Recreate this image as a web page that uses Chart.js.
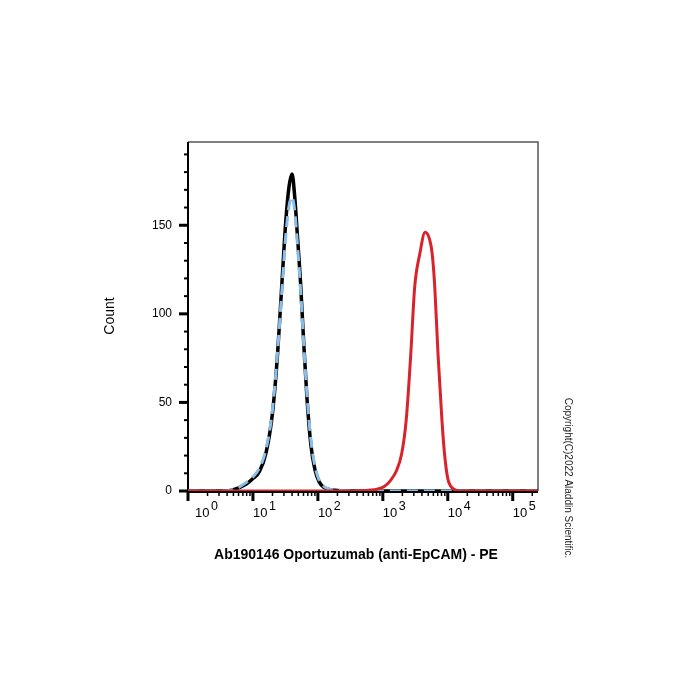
<!DOCTYPE html>
<html>
<head>
<meta charset="utf-8">
<script src="https://cdn.jsdelivr.net/npm/chart.js"></script>
<style>
  body { margin: 0; background: #fff; }
  canvas { display: block; }
</style>
</head>
<body>
<canvas id="histo" width="700" height="700"></canvas>
<script>
// fluorescence intensity (PE) and event counts
const isoX = [1, 3, 4, 5, 6.3, 8, 10, 12.6, 16, 20, 24, 28, 32, 36, 40, 44, 48, 54, 60, 68, 78, 90, 105, 125, 150, 200, 320, 1000, 10000, 245000];
const isoY = [0, 0, 0, 0.8, 2, 4, 7, 11, 22, 44, 78, 118, 152, 172, 179, 166, 146, 118, 86, 52, 26, 12, 5, 2, 0.8, 0.3, 0, 0, 0, 0];

const blankX = [1, 3, 4, 5, 6.3, 8, 10, 12.6, 16, 20, 24, 28, 32, 36, 40, 44, 48, 54, 60, 68, 78, 90, 105, 125, 150, 200, 320, 1000, 10000, 245000];
const blankY = [0, 0, 0.2, 1, 2.5, 5, 8, 13, 24, 46, 79, 114, 144, 161, 166, 158, 141, 114, 85, 54, 29, 14, 6, 2.5, 1, 0.3, 0, 0, 0, 0];

const epcamX = [1, 100, 300, 500, 650, 813, 1050, 1288, 1600, 1950, 2290, 2690, 3090, 3715, 4467, 5250, 5750, 6310, 7080, 8130, 8910, 10000, 11000, 12500, 15000, 245000];
const epcamY = [0, 0, 0, 0.3, 0.5, 1, 2.5, 5.6, 11, 21, 40, 77, 115, 134, 146, 142, 134, 115, 77, 40, 21, 7, 3, 1, 0, 0];

const yTicks = [0, 50, 100, 150];
const decades = [0, 1, 2, 3, 4, 5];

const xMin = 1, xMax = 245000, yMax = 197;

function pts(xs, ys) {
  return xs.map((x, i) => ({x: x, y: ys[i]}));
}

const frame = {
  id: 'frame',
  beforeDatasetsDraw(chart) {
    const ctx = chart.ctx;
    const a = chart.chartArea;
    const xs = chart.scales.x, ys = chart.scales.y;
    ctx.save();
    // top and right border
    ctx.strokeStyle = '#555';
    ctx.lineWidth = 1.5;
    ctx.beginPath();
    ctx.moveTo(a.left, a.top);
    ctx.lineTo(a.right, a.top);
    ctx.lineTo(a.right, a.bottom);
    ctx.stroke();
    // axis lines
    ctx.strokeStyle = '#000';
    ctx.lineWidth = 2;
    ctx.beginPath();
    ctx.moveTo(a.left, a.top);
    ctx.lineTo(a.left, a.bottom + 1);
    ctx.lineTo(a.right, a.bottom + 1);
    ctx.stroke();
    // y ticks
    for (let v = 0; v < yMax; v += 10) {
      const y = ys.getPixelForValue(v);
      const major = v % 50 === 0;
      ctx.lineWidth = major ? 3 : 2;
      ctx.beginPath();
      ctx.moveTo(a.left - (major ? 9 : 4), y);
      ctx.lineTo(a.left, y);
      ctx.stroke();
    }
    // x ticks
    decades.forEach(d => {
      for (let m = 1; m <= 9; m++) {
        const v = m * Math.pow(10, d);
        if (v > xMax) break;
        const x = xs.getPixelForValue(v);
        const major = m === 1;
        ctx.lineWidth = major ? 3 : 1.5;
        ctx.beginPath();
        ctx.moveTo(x, a.bottom);
        ctx.lineTo(x, a.bottom + (major ? 10 : 5));
        ctx.stroke();
      }
    });
    ctx.restore();
  },
  afterDraw(chart) {
    const ctx = chart.ctx;
    const xs = chart.scales.x;
    ctx.save();
    ctx.fillStyle = '#000';
    // x tick labels 10^n
    decades.forEach(d => {
      let x = xs.getPixelForValue(Math.pow(10, d));
      if (d === 0) x += 7;
      ctx.textAlign = 'left';
      ctx.textBaseline = 'alphabetic';
      ctx.font = '13px "Liberation Sans", Arial, sans-serif';
      ctx.fillText('10', x, 517);
      const w = ctx.measureText('10').width;
      ctx.font = '12.5px "Liberation Sans", Arial, sans-serif';
      ctx.fillText(String(d), x + w + 1.5, 510);
    });
    // axis titles
    ctx.font = 'bold 14px "Liberation Sans", Arial, sans-serif';
    ctx.textAlign = 'center';
    ctx.textBaseline = 'middle';
    ctx.fillText('Ab190146 Oportuzumab (anti-EpCAM) - PE', 356, 555);
    ctx.save();
    ctx.translate(110, 316);
    ctx.rotate(-Math.PI / 2);
    ctx.font = '14px "Liberation Sans", Arial, sans-serif';
    ctx.fillText('Count', 0, 0);
    ctx.restore();
    ctx.save();
    ctx.translate(568, 478);
    ctx.rotate(Math.PI / 2);
    ctx.font = '10px "Liberation Sans", Arial, sans-serif';
    ctx.fillStyle = '#222';
    ctx.fillText('Copyright(C)2022 Aladdin Scientific.', 0, 0);
    ctx.restore();
    ctx.restore();
  }
};

new Chart(document.getElementById('histo'), {
  type: 'line',
  data: {
    datasets: [
      {
        label: 'EpCAM',
        data: pts(epcamX, epcamY),
        borderColor: '#d8232a',
        borderWidth: 3,
        order: 1
      },
      {
        label: 'Blank',
        data: pts(blankX, blankY),
        borderColor: '#8cbde6',
        borderWidth: 3,
        borderDash: [11, 6],
        order: 2
      },
      {
        label: 'Isotype',
        data: pts(isoX, isoY),
        borderColor: '#000',
        borderWidth: 3.5,
        order: 3
      }
    ]
  },
  options: {
    responsive: false,
    animation: false,
    layout: { padding: { left: 128, right: 162, top: 142, bottom: 169 } },
    elements: {
      point: { radius: 0 },
      line: { cubicInterpolationMode: 'monotone', fill: false }
    },
    plugins: {
      legend: { display: false },
      tooltip: { enabled: false }
    },
    scales: {
      x: {
        type: 'logarithmic',
        min: xMin,
        max: xMax,
        afterFit(s) { s.height = 40; },
        grid: { display: false, drawTicks: false },
        border: { display: false },
        ticks: { display: false }
      },
      y: {
        min: 0,
        max: yMax,
        afterFit(s) { s.width = 60; },
        grid: { display: false, drawTicks: false },
        border: { display: false },
        afterBuildTicks(s) { s.ticks = yTicks.map(v => ({value: v})); },
        ticks: {
          padding: 16,
          color: '#000',
          font: { size: 12, family: '"Liberation Sans", Arial, sans-serif' }
        }
      }
    }
  },
  plugins: [frame]
});
</script>
</body>
</html>
